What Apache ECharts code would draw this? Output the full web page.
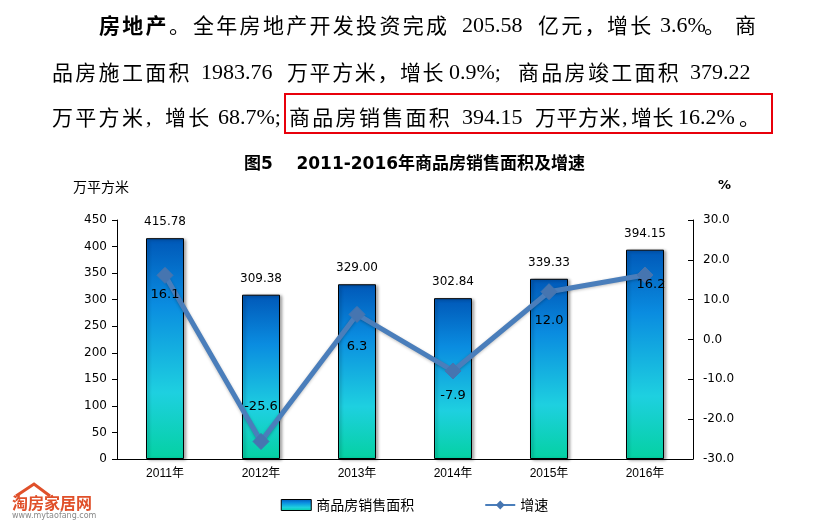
<!DOCTYPE html>
<html>
<head>
<meta charset="utf-8">
<script src="https://cdn.jsdelivr.net/npm/echarts@6/dist/echarts.min.js"></script>
<style>
html,body{margin:0;padding:0;background:#fff;}
#c{width:829px;height:523px;}
</style>
</head>
<body>
<div id="c"></div>
<script>
// ---- data ----
var categories = ['2011年', '2012年', '2013年', '2014年', '2015年', '2016年'];
var salesArea = [415.78, 309.38, 329.00, 302.84, 339.33, 394.15];
var growth = [16.1, -25.6, 6.3, -7.9, 12.0, 16.2];
var seriesNames = ['商品房销售面积', '增速'];
var chartTitle = '图5    2011-2016年商品房销售面积及增速';
var leftUnit = '万平方米';
var rightUnit = '%';

// paragraph text runs: [text, x, pitch(for CJK char-by-char) or 0 for latin run, bold]
var paraLines = [
  {y: 25, runs: [
    ['房地产', 99, 23.3, true], ['。', 169, 23.3, false],
    ['全年房地产开发投资完成', 193, 23.3, false], ['205.58', 462, 0, false],
    ['亿元，', 538, 23.3, false], ['增长', 607, 23.3, false], ['3.6%', 660, 0, false],
    ['。', 704, 23.3, false], ['商', 735, 23.3, false]
  ]},
  {y: 72, runs: [
    ['品房施工面积', 52, 23.3, false], ['1983.76', 201, 0, false],
    ['万平方米，增长', 287, 22.6, false], ['0.9%;', 449, 0, false],
    ['商品房竣工面积', 518, 23.3, false], ['379.22', 690, 0, false]
  ]},
  {y: 117, runs: [
    ['万平方米', 52, 23.3, false], [',', 146, 0, false], ['增长', 165, 23.3, false],
    ['68.7%;', 218, 0, false],
    ['商品房销售面积', 289, 23.3, false], ['394.15', 462, 0, false],
    ['万平方米', 535, 21.5, false], [',', 622, 0, false], ['增长', 631, 21.5, false],
    ['16.2%', 678, 0, false], ['。', 739, 23.3, false]
  ]}
];

var graphics = [];
paraLines.forEach(function (ln) {
  ln.runs.forEach(function (r) {
    var txt = r[0], x = r[1], pitch = r[2], bold = r[3];
    if (pitch) {
      for (var i = 0; i < txt.length; i++) {
        graphics.push({type: 'text', x: x + i * pitch, y: ln.y,
          style: {text: txt[i], font: (bold ? 'bold ' : '') + '21px "Noto Sans CJK SC"',
            fill: '#000', textVerticalAlign: 'middle', verticalAlign: 'middle'}});
      }
    } else {
      graphics.push({type: 'text', x: x, y: ln.y + 1,
        style: {text: txt, font: '22px "Liberation Serif", "Noto Sans CJK SC"',
          fill: '#000', textVerticalAlign: 'middle', verticalAlign: 'middle'}});
    }
  });
});
// red highlight box
graphics.push({type: 'rect', shape: {x: 285, y: 94, width: 487, height: 39},
  style: {fill: 'none', stroke: '#E8000B', lineWidth: 2}});
// units
graphics.push({type: 'text', x: 73, y: 187, style: {text: leftUnit,
  font: '14px "Noto Sans CJK SC"', fill: '#000', verticalAlign: 'middle', textVerticalAlign: 'middle'}});
graphics.push({type: 'text', x: 718, y: 186, style: {text: rightUnit,
  font: 'bold 13px "DejaVu Sans"', fill: '#000', verticalAlign: 'middle', textVerticalAlign: 'middle'}});
// watermark
graphics.push({type: 'text', x: 12, y: 503, style: {text: '淘房家居网',
  font: 'bold 16px "Noto Sans CJK SC"', fill: '#E0502A', verticalAlign: 'middle', textVerticalAlign: 'middle'}});
graphics.push({type: 'text', x: 12, y: 516, style: {text: 'www.mytaofang.com',
  font: '8px "DejaVu Sans"', fill: '#888', verticalAlign: 'middle', textVerticalAlign: 'middle'}});
graphics.push({type: 'polyline', shape: {points: [[16, 496], [34, 484], [50, 496]]},
  style: {stroke: '#E0502A', lineWidth: 3, fill: 'none'}});

var barGradient = new echarts.graphic.LinearGradient(0, 0, 0, 1, [
  {offset: 0, color: '#0058B8'},
  {offset: 0.3, color: '#0A8CE0'},
  {offset: 0.7, color: '#1ED0E0'},
  {offset: 1, color: '#04D1A2'}
]);

var lineLabelCfg = [
  {position: 'bottom', distance: 4, offset: [0, 0]},
  {position: 'top', distance: 20, offset: [0, 0]},
  {position: 'bottom', distance: 17, offset: [0, 0]},
  {position: 'bottom', distance: 10, offset: [0, 0]},
  {position: 'bottom', distance: 14, offset: [0, 0]},
  {position: 'bottom', distance: 0, offset: [6, -5]}
];

var chart = echarts.init(document.getElementById('c'), null, {renderer: 'canvas'});
chart.setOption({
  backgroundColor: '#fff',
  animation: false,
  title: {
    text: chartTitle, left: 'center', top: 151,
    textStyle: {fontSize: 17, fontWeight: 'bold', color: '#000',
      fontFamily: '"DejaVu Sans", "Noto Sans CJK SC"'}
  },
  graphic: graphics,
  legend: {
    bottom: 6, left: 'center', itemWidth: 30, itemHeight: 11, itemGap: 70,
    textStyle: {fontSize: 14, color: '#000', fontFamily: '"Noto Sans CJK SC"'},
    data: [
      {name: seriesNames[0], icon: 'rect', itemStyle: {borderColor: '#000', borderWidth: 1}},
      {name: seriesNames[1]}
    ]
  },
  grid: {left: 117, right: 136, top: 220, bottom: 64, containLabel: false},
  xAxis: {
    type: 'category', data: categories, boundaryGap: true,
    axisLine: {lineStyle: {color: '#000', width: 1}},
    axisTick: {inside: true, length: 6, lineStyle: {color: '#000'}},
    axisLabel: {color: '#000', fontSize: 12, margin: 9,
      fontFamily: '"Liberation Sans Narrow", "Liberation Sans", "Noto Sans CJK SC"'}
  },
  yAxis: [
    {
      type: 'value', min: 0, max: 450, interval: 50,
      axisLine: {show: true, lineStyle: {color: '#000'}},
      axisTick: {show: true, length: 5, lineStyle: {color: '#000'}},
      splitLine: {show: false},
      axisLabel: {color: '#000', fontSize: 12, margin: 10, fontFamily: '"DejaVu Sans"'}
    },
    {
      type: 'value', min: -30, max: 30, interval: 10, position: 'right',
      axisLine: {show: true, lineStyle: {color: '#000'}},
      axisTick: {show: true, inside: true, length: 5, lineStyle: {color: '#000'}},
      splitLine: {show: false},
      axisLabel: {color: '#000', fontSize: 12, margin: 10, fontFamily: '"DejaVu Sans"',
        formatter: function (v) { return v.toFixed(1); }}
    }
  ],
  series: [
    {
      name: seriesNames[0], type: 'bar', yAxisIndex: 0, barWidth: 38,
      data: salesArea,
      itemStyle: {color: barGradient, borderColor: '#000', borderWidth: 1,
        shadowColor: 'rgba(0,0,0,0.35)', shadowBlur: 3, shadowOffsetX: 2, shadowOffsetY: 1},
      label: {show: true, position: 'top', distance: 10, color: '#000', fontSize: 12,
        fontFamily: '"DejaVu Sans"', formatter: function (p) { return p.value.toFixed(2); }}
    },
    {
      name: seriesNames[1], type: 'line', yAxisIndex: 1,
      data: growth.map(function (v, i) {
        return {value: v, label: lineLabelCfg[i]};
      }),
      symbol: 'diamond', symbolSize: 16,
      lineStyle: {color: '#4A7EBB', width: 5, shadowColor: 'rgba(0,0,0,0.25)', shadowBlur: 3, shadowOffsetY: 1},
      itemStyle: {color: '#4675B0', borderColor: '#4675B0'},
      label: {show: true, color: '#000', fontSize: 13, fontFamily: '"DejaVu Sans"',
        formatter: function (p) { return p.value.toFixed(1); }},
      z: 5
    }
  ]
});
</script>
</body>
</html>
